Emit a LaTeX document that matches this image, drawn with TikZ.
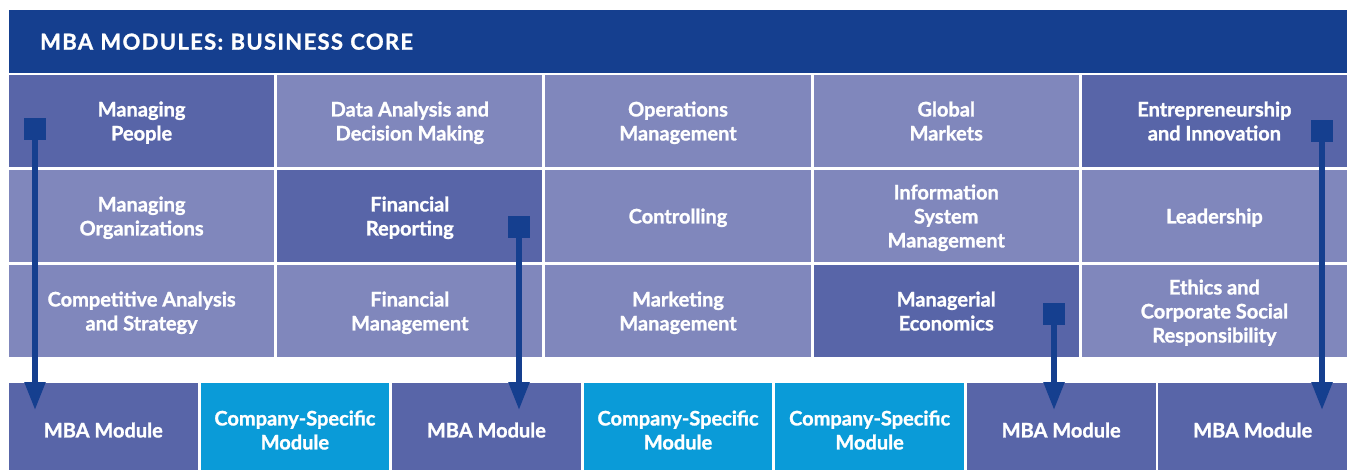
\documentclass[tikz,border=0pt]{standalone}
\usepackage{fontspec}
\setmainfont{Lato}[BoldFeatures={FakeBold=1.3}]
\usetikzlibrary{arrows.meta}
\definecolor{hdrblue}{RGB}{21,63,143}
\definecolor{darkcell}{RGB}{88,101,168}
\definecolor{lightcell}{RGB}{128,135,188}
\definecolor{cyancell}{RGB}{10,155,216}
\begin{document}
\begin{tikzpicture}[x=1pt,y=-1pt,
  cell/.style={rectangle, minimum width=265.2pt, minimum height=92pt, inner sep=0pt,
    text=white, align=center, text depth=0pt, font=\bfseries\fontsize{20}{24}\selectfont},
  dcell/.style={cell, fill=darkcell},
  lcell/.style={cell, fill=lightcell},
  bbox/.style={rectangle, minimum width=188.6pt, minimum height=94pt, inner sep=0pt,
    text=white, align=center, text depth=0pt, font=\bfseries\fontsize{20}{24}\selectfont},
  mba/.style={bbox, fill=darkcell},
  comp/.style={bbox, fill=cyancell},
  marker/.style={rectangle, fill=hdrblue, minimum size=22pt, inner sep=0pt},
  conn/.style={draw=hdrblue, line width=5.4pt, -{Triangle[width=20pt,length=28pt]}, fill=hdrblue}
]
\useasboundingbox (0,0) rectangle (1354,470);
\clip (0,0) rectangle (1354,470);
\fill[white] (0,0) rectangle (1354,470);

% header
\node[rectangle, fill=hdrblue, anchor=north west, minimum height=63pt, inner xsep=31pt, inner ysep=0pt,
  text width=1276pt, align=left, text=white, font=\bfseries\fontsize{22}{24}\selectfont]
  (hdr) at (9,10) {\addfontfeatures{LetterSpace=6}MBA MODULES: BUSINESS CORE};

% grid row 1
\node[dcell] (c11) at (141.6,121) {Managing\\People};
\node[lcell] (c12) at (409.8,121) {Data Analysis and\\Decision Making};
\node[lcell] (c13) at (678,121) {Operations\\Management};
\node[lcell] (c14) at (946.2,121) {Global\\Markets};
\node[dcell] (c15) at (1214.4,121) {Entrepreneurship\\and Innovation};
% row 2
\node[lcell] (c21) at (141.6,216) {Managing\\Organizations};
\node[dcell] (c22) at (409.8,216) {Financial\\Reporting};
\node[lcell] (c23) at (678,216) {Controlling};
\node[lcell] (c24) at (946.2,216) {Information\\System\\Management};
\node[lcell] (c25) at (1214.4,216) {Leadership};
% row 3
\node[lcell] (c31) at (141.6,311) {Competitive Analysis\\and Strategy};
\node[lcell] (c32) at (409.8,311) {Financial\\Management};
\node[lcell] (c33) at (678,311) {Marketing\\Management};
\node[dcell] (c34) at (946.2,311) {Managerial\\Economics};
\node[lcell] (c35) at (1214.4,311) {Ethics and\\Corporate Social\\Responsibility};

% bottom row
\node[mba]  (b1) at (103.3,430) {MBA Module};
\node[comp] (b2) at (294.9,430) {Company-Specific\\Module};
\node[mba]  (b3) at (486.4,430) {MBA Module};
\node[comp] (b4) at (678,430) {Company-Specific\\Module};
\node[comp] (b5) at (869.6,430) {Company-Specific\\Module};
\node[mba]  (b6) at (1061.2,430) {MBA Module};
\node[mba]  (b7) at (1252.7,430) {MBA Module};

% markers and arrows
\node[marker] (s1) at (35,129) {};
\node[marker] (s2) at (519,227) {};
\node[marker] (s3) at (1054,314) {};
\node[marker] (s4) at (1322,131) {};
\coordinate (t1) at (35,410);
\coordinate (t2) at (519,410);
\coordinate (t3) at (1054,410);
\coordinate (t4) at (1322,410);
\draw[conn] (s1.center) -- (t1);
\draw[conn] (s2.center) -- (t2);
\draw[conn] (s3.center) -- (t3);
\draw[conn] (s4.center) -- (t4);
\end{tikzpicture}
\end{document}
